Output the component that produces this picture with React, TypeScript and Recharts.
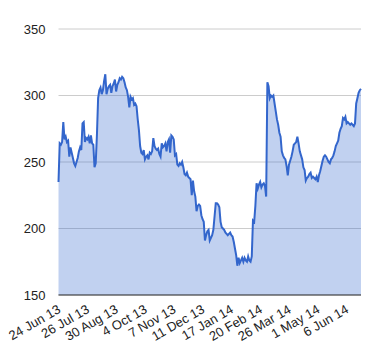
import { AreaChart, Area, XAxis, YAxis, CartesianGrid } from 'recharts'

const BLUE = '#3366CC'

// daily closes, one per trading day from 24 Jun 13 onward
const PRICES = [
  235, 264, 263, 265, 280, 267, 269, 265, 266, 254, 261, 257, 253, 249, 247, 250, 253, 258, 261, 259,
  279, 280, 265, 268, 267, 269, 264, 270, 264, 263, 246, 249, 270, 298, 304, 306, 301, 304, 311, 316,
  301, 305, 307, 308, 302, 307, 309, 312, 303, 308, 310, 313, 312, 314, 313, 310, 306, 304, 299, 291,
  299, 297, 298, 293, 294, 292, 282, 274, 262, 257, 256, 259, 252, 254, 255, 252, 257, 256, 258, 268,
  262, 260, 259, 260, 256, 254, 264, 261, 262, 264, 258, 265, 267, 257, 270, 269, 267, 255, 256, 248,
  247, 249, 248, 250, 246, 241, 240, 242, 239, 238, 237, 225, 236, 228, 224, 213, 217, 218, 217, 210,
  207, 205, 191, 195, 198, 199, 191, 193, 195, 199, 209, 219, 219, 218, 216, 205, 201, 200, 199, 197,
  196, 195, 196, 197, 195, 194, 190, 185, 180, 172, 178, 174, 176, 178, 175, 178, 176, 175, 179, 176,
  175, 179, 206, 205, 217, 234, 230, 233, 235, 231, 233, 234, 232, 224, 310, 307, 298, 300, 299, 300,
  294, 288, 282, 278, 272, 269, 258, 255, 253, 252, 247, 240, 248, 251, 254, 258, 263, 264, 265, 269,
  264, 258, 255, 252, 246, 244, 236, 238, 239, 241, 242, 238, 239, 238, 237, 239, 235, 240, 243, 247,
  251, 254, 255, 254, 252, 250, 249, 252, 253, 255, 258, 262, 264, 266, 272, 275, 277, 283, 282, 284,
  279, 280, 279, 278, 279, 278, 277, 279, 294, 298, 302, 304, 305,
]

const TICK_LABELS = [
  '24 Jun 13', '26 Jul 13', '30 Aug 13', '4 Oct 13', '7 Nov 13', '11 Dec 13',
  '17 Jan 14', '20 Feb 14', '26 Mar 14', '1 May 14', '6 Jun 14',
]
const TICK_STEP = 24
const Y_TICKS = [150, 200, 250, 300, 350]

const data = PRICES.map((v, i) => ({ i, v }))
const xTicks = TICK_LABELS.map((_, k) => k * TICK_STEP)

const FONT = 'Arial, "Liberation Sans", sans-serif'

// eslint-disable-next-line @typescript-eslint/no-explicit-any
function SlantTick({ x, y, payload }: any) {
  const label = TICK_LABELS[Math.round(payload.value / TICK_STEP)] ?? ''
  const tx = x + 3
  return (
    <text x={tx} y={y} transform={`rotate(-30 ${tx} ${y})`} textAnchor="end" fontSize={13} fill="#222" fontFamily={FONT}>
      {label}
    </text>
  )
}

export default function App() {
  return (
    <div style={{ position: 'absolute', left: 0, top: 0, width: 380, height: 360, background: '#fff' }}>
      <AreaChart width={380} height={360} data={data} margin={{ top: 29, right: 19, left: 0, bottom: 0 }}>
        <CartesianGrid horizontal vertical={false} stroke="#ccc" />
        <XAxis dataKey="i" type="number" domain={[0, PRICES.length - 1]} ticks={xTicks} interval={0}
          height={65} tickSize={0} tickMargin={17} tick={<SlantTick />} stroke="#333" tickLine={false} />
        <YAxis domain={[150, 350]} ticks={Y_TICKS} width={58.5} axisLine={false} tickLine={false} tickSize={0} tickMargin={13}
          tick={{ fontSize: 13, fill: '#222', fontFamily: FONT }} />
        <Area type="linear" dataKey="v" stroke={BLUE} strokeWidth={2} fill={BLUE} fillOpacity={0.3} isAnimationActive={false} dot={false} activeDot={false} />
      </AreaChart>
    </div>
  )
}
